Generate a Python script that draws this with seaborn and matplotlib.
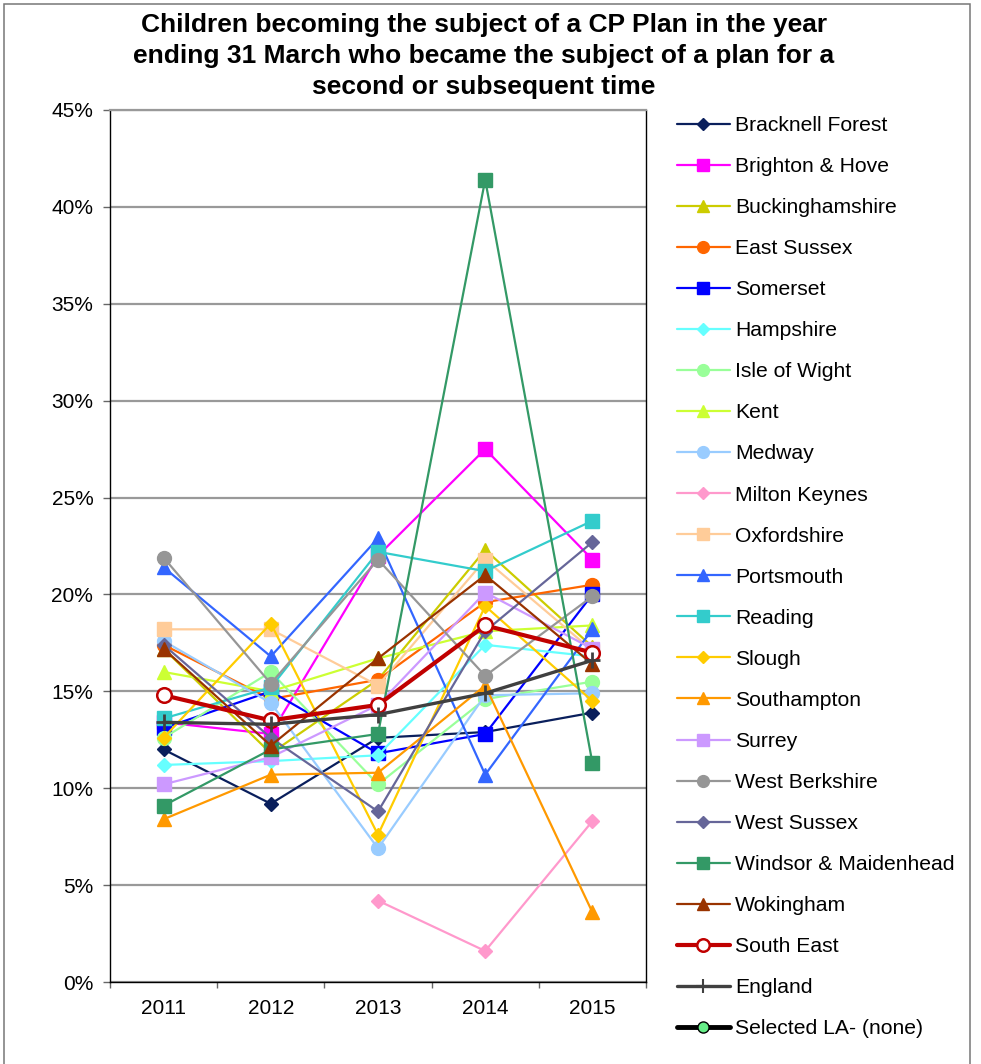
import numpy as np
import pandas as pd
import matplotlib
matplotlib.use("Agg")
import matplotlib.pyplot as plt
import seaborn as sns
from matplotlib.lines import Line2D
from matplotlib.patches import Rectangle
from matplotlib.ticker import FuncFormatter, MultipleLocator, FixedLocator

# --- values (percent) ---
years = ["2011", "2012", "2013", "2014", "2015"]
nan = np.nan

bracknell_forest   = [12.0,  9.2, 12.6, 12.9, 13.9]
brighton_hove      = [13.4, 12.8, 22.0, 27.5, 21.8]
buckinghamshire    = [17.2, 11.8, 15.6, 22.3, 17.3]
east_sussex        = [17.4, 14.6, 15.6, 19.6, 20.5]
somerset           = [13.1, 15.0, 11.8, 12.8, 20.0]
hampshire          = [11.2, 11.4, 11.7, 17.4, 16.8]
isle_of_wight      = [12.6, 16.0, 10.2, 14.6, 15.5]
kent               = [16.0, 15.0, 16.7, 18.1, 18.4]
medway             = [17.6, 14.4,  6.9, 14.8, 14.9]
milton_keynes      = [nan,  nan,   4.2,  1.6,  8.3]
oxfordshire        = [18.2, 18.2, 15.3, 21.8, 17.1]
portsmouth         = [21.4, 16.8, 22.9, 10.7, 18.2]
reading            = [13.6, 15.2, 22.2, 21.2, 23.8]
slough             = [12.6, 18.5,  7.6, 19.4, 14.5]
southampton        = [ 8.4, 10.7, 10.8, 15.3,  3.6]
surrey             = [10.2, 11.6, 14.3, 20.1, 17.2]
west_berkshire     = [21.9, 15.4, 21.8, 15.8, 19.9]
west_sussex        = [17.4, 12.6,  8.8, 18.1, 22.7]
windsor_maidenhead = [ 9.1, 12.0, 12.8, 41.4, 11.3]
wokingham          = [17.2, 12.2, 16.7, 21.0, 16.4]
south_east         = [14.8, 13.5, 14.3, 18.4, 17.0]
england            = [13.4, 13.3, 13.8, 14.9, 16.6]

# name, values, colour, marker, markersize
series = [
    ("Bracknell Forest", bracknell_forest, "#0A1F5C", "D", 7),
    ("Brighton & Hove", brighton_hove, "#FF00FF", "s", 9.5),
    ("Buckinghamshire", buckinghamshire, "#CCCC00", "^", 10),
    ("East Sussex", east_sussex, "#FF6600", "o", 10),
    ("Somerset", somerset, "#0000FF", "s", 9.5),
    ("Hampshire", hampshire, "#66FFFF", "D", 7),
    ("Isle of Wight", isle_of_wight, "#99FF99", "o", 10),
    ("Kent", kent, "#CCFF33", "^", 10),
    ("Medway", medway, "#99CCFF", "o", 10),
    ("Milton Keynes", milton_keynes, "#FF99CC", "D", 7),
    ("Oxfordshire", oxfordshire, "#FFCC99", "s", 9.5),
    ("Portsmouth", portsmouth, "#3366FF", "^", 10),
    ("Reading", reading, "#33CCCC", "s", 9.5),
    ("Slough", slough, "#FFCC00", "D", 7),
    ("Southampton", southampton, "#FF9900", "^", 10),
    ("Surrey", surrey, "#CC99FF", "s", 9.5),
    ("West Berkshire", west_berkshire, "#969696", "o", 10),
    ("West Sussex", west_sussex, "#666699", "D", 7),
    ("Windsor & Maidenhead", windsor_maidenhead, "#339966", "s", 9.5),
    ("Wokingham", wokingham, "#993300", "^", 10),
]

sns.set_style("white")
plt.rcParams["font.family"] = ["Liberation Sans", "DejaVu Sans"]
plt.rcParams["text.color"] = "black"
plt.rcParams["xtick.color"] = "black"
plt.rcParams["ytick.color"] = "black"

fig = plt.figure(figsize=(9.81, 10.64), dpi=100)
ax = fig.add_axes([110 / 981, 1 - 982 / 1064, 536 / 981, 872 / 1064])

handles = []
for i, (name, vals, col, mk, ms) in enumerate(series):
    d = pd.DataFrame({"year": years, "value": vals})
    sns.lineplot(data=d, x="year", y="value", ax=ax, sort=False, estimator=None,
                 color=col, marker=mk, markersize=ms, linewidth=1.6,
                 markeredgecolor=col, markerfacecolor=col, markeredgewidth=1,
                 zorder=3 + i * 0.01, legend=False)
    handles.append(Line2D([], [], color=col, marker=mk, markersize=ms * 0.85,
                          lw=1.6, markeredgecolor=col, markerfacecolor=col))

d = pd.DataFrame({"year": years, "value": south_east})
sns.lineplot(data=d, x="year", y="value", ax=ax, sort=False, estimator=None,
             color="#C00000", marker="o", markersize=10.5, linewidth=3,
             markeredgecolor="#C00000", markerfacecolor="white", markeredgewidth=1.8,
             zorder=4, legend=False)
handles.append(Line2D([], [], color="#C00000", marker="o", markersize=9, lw=3,
                      markeredgecolor="#C00000", markerfacecolor="white", markeredgewidth=1.8))

d = pd.DataFrame({"year": years, "value": england})
sns.lineplot(data=d, x="year", y="value", ax=ax, sort=False, estimator=None,
             color="#404040", marker="+", markersize=12, linewidth=2.4,
             markeredgecolor="#404040", markeredgewidth=2,
             zorder=4.1, legend=False)
handles.append(Line2D([], [], color="#404040", marker="+", markersize=10, lw=2.4,
                      markeredgewidth=1.5))

# selected LA has no data, legend entry only
handles.append(Line2D([], [], color="black", marker="o", markersize=8, lw=3.5,
                      markeredgecolor="black", markerfacecolor="#66EE88", markeredgewidth=1))
labels = [s[0] for s in series] + ["South East", "England", "Selected LA- (none)"]

ax.set_xlim(-0.5, 4.5)
ax.set_ylim(0, 45)
ax.yaxis.set_major_locator(MultipleLocator(5))
ax.yaxis.set_major_formatter(FuncFormatter(lambda v, p: f"{v:.0f}%"))
ax.xaxis.set_minor_locator(FixedLocator(np.arange(-0.5, 5, 1)))
ax.set_xlabel("")
ax.set_ylabel("")
ax.yaxis.grid(True, color="#999999", lw=1.6)
ax.set_axisbelow(True)
ax.tick_params(axis="y", which="major", length=5, width=1, color="#666666",
               direction="out", pad=7, labelsize=15, labelcolor="black", left=True)
ax.tick_params(axis="x", which="major", length=0, pad=12, labelsize=15, labelcolor="black")
ax.tick_params(axis="x", which="minor", length=4, width=1, color="#666666",
               direction="out", bottom=True)
for s in ["left", "bottom", "right"]:
    ax.spines[s].set_color("black")
    ax.spines[s].set_linewidth(1)
ax.spines["top"].set_color("#999999")
ax.spines["top"].set_linewidth(1.6)

fig.legend(handles, labels, loc="upper left", bbox_to_anchor=(677 / 981, 1 - 116 / 1064),
           frameon=False, fontsize=15.2, handlelength=2.5, handletextpad=0.25,
           labelspacing=1.045, borderpad=0, borderaxespad=0)

fig.text(484 / 981, 1 - 56 / 1064,
         "Children becoming the subject of a CP Plan in the year\n"
         "ending 31 March who became the subject of a plan for a\n"
         "second or subsequent time",
         ha="center", va="center", fontsize=19, weight="bold", linespacing=1.37)

fig.patches.append(Rectangle((4 / 981, -0.01), 966 / 981, 1 - 4 / 1064 + 0.01,
                             transform=fig.transFigure, fill=False,
                             edgecolor="#777777", lw=1.1))

fig.savefig("out.png", dpi=100)
